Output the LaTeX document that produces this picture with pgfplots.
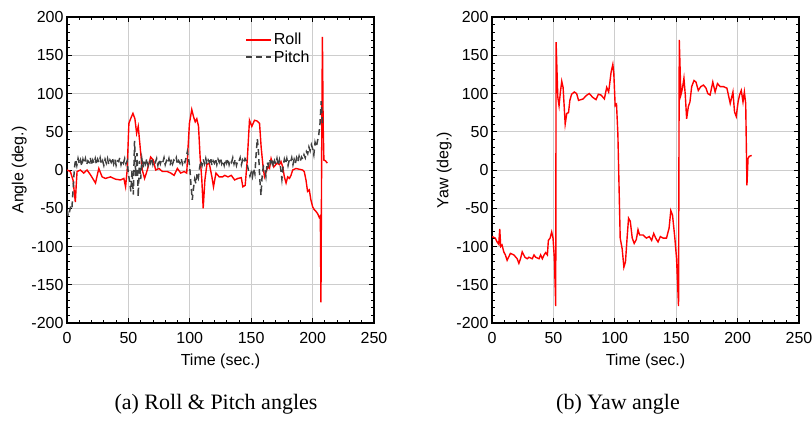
\documentclass[border=0pt]{standalone}
\usepackage{pgfplots}
\pgfplotsset{compat=1.18}
\usepackage{fontspec}
\setmainfont{Liberation Sans}
\newfontfamily\capfont{Liberation Serif}
\definecolor{gridgray}{RGB}{205,205,205}
\definecolor{pitchgray}{RGB}{64,64,64}
\begin{document}
\begin{tikzpicture}
\path[use as bounding box] (0pt,0pt) rectangle (812pt,-421pt);
\pgfplotsset{
  myaxis/.style={
    scale only axis, width=307pt, height=306pt,
    anchor=south west,
    xmin=0, xmax=250, ymin=-200, ymax=200,
    xtick={0,50,...,250}, ytick={-200,-150,...,200},
    minor x tick num=4, minor y tick num=4,
    tick align=inside, major tick length=5pt, minor tick length=3pt,
    tick style={black, line width=0.8pt},
    axis line style={black, line width=1.1pt},
    grid=major, major grid style={gridgray, line width=0.8pt},
    /pgf/number format/assume math mode=true,
    tick label style={font=\fontsize{16}{18}\selectfont},
    xticklabel style={yshift=-6pt},
    label style={font=\fontsize{16}{18}\selectfont},
    xlabel={Time (sec.)},
    xlabel style={yshift=-3pt},
    ylabel style={yshift=-2pt},
  }
}
\begin{axis}[myaxis, at={(67pt,-323pt)}, ylabel={Angle (deg.)},
  legend style={at={(rel axis cs:0.80,0.957)}, anchor=north east, draw=none, fill=none,
    font=\fontsize{16}{18}\selectfont, inner sep=1pt, row sep=0pt},
  legend cell align=left,
  legend image code/.code={\draw[mark repeat=2,mark phase=2] plot coordinates {(0pt,0pt)(12.5pt,0pt)(25pt,0pt)};}]
\addplot[red, line width=1.4pt] coordinates {
(0,0)(2.7,-2)(4.9,-13)(6,-30)(6.8,-42)(7.5,-20)(8.2,-2)(10.9,0)(13.6,-4)(16.3,0)(19,-6)(23.2,-17)(25.9,2)(28.6,-9)(31.3,-11)(35.4,-9)(39.5,-12)(43.6,-13)(46.3,-11)(47.7,-22)(49,0)(50.4,61)(51.8,67)(53.7,74)(55.3,67)(56.7,48)(58,57)(59.4,33)(61.3,0)(63.2,-11)(65.4,0)(68.1,17)(70.3,13)(72.2,0)(74.9,2)(77.7,-2)(81.7,-2)(84.5,-4)(87.2,-7)(89.9,2)(92.6,-4)(95.4,-2)(97.5,-4)(98.6,30)(99.7,61)(101.6,79)(103,70)(104.4,63)(105.7,67)(107.1,57)(108.4,17)(109.8,-13)(110.9,-50)(112.3,-13)(113.9,7)(115.8,9)(118,-9)(119.3,-22)(121.3,-4)(124,-9)(126.7,-9)
(128.4,-7)(131.1,-9)(133.8,-7)(136.5,-13)(139.2,-11)(141.9,-10)(143.2,-22)(145.1,-20)(146.8,13)(148.6,65)(150.5,57)(152.7,65)(154.9,64)(156.8,61)(158.1,30)(159.5,7)(160.8,-9)(163.5,4)(164.9,2)(166.2,15)(168.4,4)(171.1,9)(173,7)(174.3,11)(175.7,4)(177,-9)(178.4,-17)(179.7,-9)(181.1,-11)(182.4,-7)(183.8,0)(186.5,2)(189.2,1)(191.9,0)(193.2,-2)(194.6,-13)(195.9,-28)(197.3,-26)(198.6,-39)(200,-48)(201.4,-52)(202.7,-54)(204.1,-57)(205.4,-62)(206.3,-60)(206.8,-173)(207.5,60)(208,174)(208.6,60)(209.2,13)(210.5,12)(212,9)
};
\addlegendentry{Roll}
\addplot[pitchgray, line width=1.5pt, dash pattern=on 6pt off 4pt] coordinates {
(0,-52)(1,-60)(2,-55)(3,-47)(4,-50)(5,-25)(6,2)(7,14)(8,6)(9,15)(10,8)(11,13)(12,5)(13,14)(14,9)(15,15)(16,7)(17,12)(18,10)(19,16)(20,6)(21,13)(22,9)(23,15)(24,7)(25,14)(26,10)(27,16)(28,8)(29,12)(30,6)(31,14)(32,9)(33,15)(34,7)(35,13)(36,10)(37,16)(38,8)(39,14)(40,6)(41,12)(42,11)(43,16)(44,7)(45,13)(46,9)(47,15)(48,8)(49,12)
(50,-5)(51,-15)(52,-28)(53,0)(54,-32)(55,38)(56,-8)(57,22)(58,-35)(59,12)(60,-12)(61,14)(62,3)(63,13)(64,8)(65,15)(66,6)(67,13)(68,9)(69,16)(70,7)(71,12)(72,10)(73,15)(74,6)(75,14)(76,8)(77,13)(78,10)(79,16)(80,7)(81,12)(82,9)(83,15)(84,6)(85,14)(86,8)(87,13)(88,11)(89,16)(90,7)(91,12)(92,9)(93,15)(94,8)(95,13)(96,10)(97,16)(98,24)(99,15)
(100,3)(101,-20)(102,-39)(103,-24)(104,-12)(105,-18)(106,-4)(107,-10)(108,3)(109,12)(110,6)(111,14)(112,8)(113,15)(114,7)(115,13)(116,10)(117,16)(118,6)(119,12)(120,9)(121,15)(122,7)(123,14)(124,10)(125,16)(126,8)(127,12)(128,6)(129,14)(130,9)(131,15)(132,7)(133,13)(134,10)(135,16)(136,8)(137,14)(138,6)(139,12)(140,11)(141,16)(142,7)(143,13)(144,9)(145,15)(146,12)(147,5)(148,-2)(149,-8)
(150,-3)(151,-9)(152,2)(153,-5)(154,20)(155,41)(156,22)(157,-12)(158,-33)(159,-5)(160,5)(161,3)(162,-8)(163,10)(164,6)(165,14)(166,9)(167,15)(168,4)(169,12)(170,8)(171,15)(172,6)(173,13)(174,2)(175,-12)(176,5)(177,14)(178,8)(179,15)(180,6)(181,13)(182,10)(183,16)(184,7)(185,14)(186,9)(187,16)(188,11)(189,18)(190,12)(191,17)(192,14)(193,20)(194,16)(195,24)(196,21)(197,30)(198,25)(199,33)
(200,28)(201,20)(202,36)(203,30)(204,38)(205,46)(206,60)(207,90)(208,62)(209,58)
};
\addlegendentry{Pitch}
\end{axis}
\begin{axis}[myaxis, at={(492pt,-323pt)}, ylabel={Yaw (deg.)}]
\addplot[red, line width=1.4pt] coordinates {
(0,-87)(2.7,-89)(4.1,-94)(5.5,-97)(6.3,-77)(7.1,-100)(8.2,-98)(9.6,-107)(10.9,-111)(12.3,-118)(15,-109)(17.8,-111)(20.5,-116)(21.9,-122)(23.2,-116)(24.6,-107)(26.8,-114)(28.7,-116)(30,-114)(32.8,-116)(34.2,-111)(35.5,-114)(38.3,-116)(39.6,-111)(41,-116)(42.4,-111)(43.7,-108)(45.1,-111)(45.9,-92)(47.3,-89)(48.6,-81)(49.7,-89)(50.8,-116)(51.9,-178)(52.2,167)(53.6,95)(54.6,84)(55.7,102)(56.8,116)(57.9,108)(59.6,60)(60.9,74)(62.3,75)(63.4,91)(64.8,99)(67,102)(68.9,100)(70.5,91)(72.4,92)(74.3,93)(76.5,97)(79.2,100)(82,95)(84.7,92)(86.6,99)(88.8,98)(91.5,93)(93.4,108)(95,102)(97,128)(98.4,138)(99.2,126)(100.3,84)(101.4,86)(102.5,47)
(104.4,-89)(106,-103)(107.4,-127)(108.7,-120)(110,-89)(111.2,-63)(112.6,-67)(114.2,-89)(115.8,-96)(117.5,-91)(118.9,-78)(120.2,-85)(123,-85)(125.7,-89)(128.1,-87)(130,-92)(131.7,-83)(133.3,-89)(135.2,-94)(137.1,-87)(139.3,-89)(142.1,-89)(144.2,-76)(145.6,-53)(147,-59)(148.9,-89)(150.3,-116)(151.9,-178)(152.5,170)(153.8,98)(155,106)(156.3,120)(157.4,98)(158.5,67)(159.9,83)(161.2,89)(162.6,109)(164.5,117)(166.1,115)(168,104)(170,109)(172.2,111)(174.3,107)(175.7,100)(177.6,98)(179.8,115)(181.7,102)(183.6,113)(185.8,109)(188.5,109)(191.3,107)(194,87)(196.2,102)(197.5,76)(198.9,70)(200.4,89)(201.6,98)(203,104)(204.4,89)(205.5,102)(206.6,87)(207.6,-20)(208.5,15)(209.5,18)(211.5,19)
};
\end{axis}
\node[font=\capfont\fontsize{22}{24}\selectfont] at (216pt,-404pt) {(a) Roll \& Pitch angles};
\node[font=\capfont\fontsize{22}{24}\selectfont] at (618pt,-404pt) {(b) Yaw angle};
\end{tikzpicture}
\end{document}
